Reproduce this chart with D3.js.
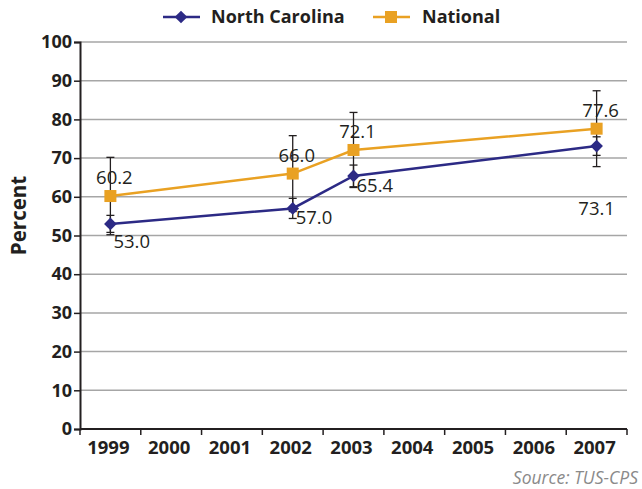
<!DOCTYPE html>
<html>
<head>
<meta charset="utf-8">
<script src="https://cdn.jsdelivr.net/npm/d3@7"></script>
<style>
  html, body { margin: 0; padding: 0; background: #fff; }
  svg { display: block; font-family: "Open Sans", "DejaVu Sans", sans-serif; }
</style>
</head>
<body>
<svg id="chart" width="642" height="489"></svg>
<script>
const years = ["1999", "2000", "2001", "2002", "2003", "2004", "2005", "2006", "2007"];
const dataYears = ["1999", "2002", "2003", "2007"];
const ncValues = [53.0, 57.0, 65.4, 73.1];
const ncErrors = [2.2, 2.6, 2.8, 2.4];
const natValues = [60.2, 66.0, 72.1, 77.6];
const natErrors = [10.0, 9.8, 9.7, 9.8];
const yTicks = [0, 10, 20, 30, 40, 50, 60, 70, 80, 90, 100];
const seriesNames = ["North Carolina", "National"];
const sourceText = "Source: TUS-CPS";

const NAVY = "#2c2a85";
const ORANGE = "#e9a123";
const INK = "#231f20";

const svg = d3.select("#chart");
const mLeft = 80, mRight = 627, mTop = 42, mBottom = 429;

const x = d3.scaleBand().domain(years).range([mLeft, mRight]).padding(0);
const y = d3.scaleLinear().domain([0, 100]).range([mBottom, mTop]);

// gridlines
svg.append("g").selectAll("line").data(yTicks.filter(d => d > 0)).join("line")
  .attr("x1", mLeft).attr("x2", mRight)
  .attr("y1", d => y(d)).attr("y2", d => y(d))
  .attr("stroke", "#a6a6a6").attr("stroke-width", 1.5);

// y axis
const yAxis = d3.axisLeft(y).tickValues(yTicks).tickSize(6).tickPadding(2);
const gy = svg.append("g").attr("transform", `translate(${mLeft},0)`).call(yAxis);
gy.select(".domain").attr("stroke", INK).attr("stroke-width", 2);
gy.selectAll(".tick line").attr("stroke", INK).attr("stroke-width", 1.5);
gy.selectAll(".tick text").attr("font-size", 18).attr("font-weight", "bold").attr("fill", INK)
  .attr("font-family", "'Open Sans', 'DejaVu Sans', sans-serif");

// x axis with ticks at band boundaries
svg.append("line").attr("x1", mLeft).attr("x2", mRight).attr("y1", mBottom).attr("y2", mBottom)
  .attr("stroke", INK).attr("stroke-width", 2);
const boundaries = years.map(d => x(d)).concat([x(years[years.length - 1]) + x.bandwidth()]);
svg.append("g").selectAll("line").data(boundaries).join("line")
  .attr("x1", d => d).attr("x2", d => d).attr("y1", mBottom).attr("y2", mBottom + 6)
  .attr("stroke", INK).attr("stroke-width", 1.5);
svg.append("g").selectAll("text").data(years).join("text")
  .attr("x", d => x(d) + x.bandwidth() / 2 - 2)
  .attr("y", mBottom + 25)
  .attr("text-anchor", "middle")
  .attr("font-size", 18.5).attr("font-weight", "bold").attr("fill", INK)
  .text(d => d);

// y title
svg.append("text")
  .attr("transform", `translate(26,${(mTop + mBottom) / 2 - 20}) rotate(-90)`)
  .attr("text-anchor", "middle")
  .attr("font-size", 20.5).attr("font-weight", "bold").attr("fill", INK)
  .text("Percent");

const cx = (i) => x(dataYears[i]) + x.bandwidth() / 2;

function errorBars(values, errors) {
  const g = svg.append("g");
  values.forEach((v, i) => {
    const X = cx(i);
    g.append("line").attr("x1", X).attr("x2", X)
      .attr("y1", y(v + errors[i])).attr("y2", y(v - errors[i]))
      .attr("stroke", INK).attr("stroke-width", 1.3);
    [v + errors[i], v - errors[i]].forEach(e => {
      g.append("line").attr("x1", X - 4).attr("x2", X + 4)
        .attr("y1", y(e)).attr("y2", y(e))
        .attr("stroke", INK).attr("stroke-width", 1.3);
    });
  });
}
errorBars(natValues, natErrors);
errorBars(ncValues, ncErrors);

const line = d3.line().x((d, i) => cx(i)).y(d => y(d));

svg.append("path").datum(natValues).attr("d", line)
  .attr("fill", "none").attr("stroke", ORANGE).attr("stroke-width", 2.5);
svg.append("path").datum(ncValues).attr("d", line)
  .attr("fill", "none").attr("stroke", NAVY).attr("stroke-width", 2.5);

// markers
svg.append("g").selectAll("rect").data(natValues).join("rect")
  .attr("x", (d, i) => cx(i) - 6).attr("y", d => y(d) - 6)
  .attr("width", 12).attr("height", 12).attr("fill", ORANGE);
svg.append("g").selectAll("path").data(ncValues).join("path")
  .attr("d", d3.symbol().type(d3.symbolSquare).size(80))
  .attr("transform", (d, i) => `translate(${cx(i)},${y(d)}) rotate(45)`)
  .attr("fill", NAVY);

// data labels
svg.append("g").selectAll("text").data(natValues).join("text")
  .attr("x", (d, i) => cx(i) + 4)
  .attr("y", d => y(d) - 12)
  .attr("text-anchor", "middle")
  .attr("font-size", 18.5).attr("fill", INK)
  .text(d => d.toFixed(1));
svg.append("g").selectAll("text").data(ncValues).join("text")
  .attr("x", (d, i) => i === ncValues.length - 1 ? cx(i) : cx(i) + 3)
  .attr("y", (d, i) => i === ncValues.length - 1 ? y(d) + 69 : (i === 0 ? y(d) + 24 : y(d) + 16))
  .attr("text-anchor", (d, i) => i === ncValues.length - 1 ? "middle" : "start")
  .attr("font-size", 18.5).attr("fill", INK)
  .text(d => d.toFixed(1));

// legend
const lg = svg.append("g");
lg.append("line").attr("x1", 163).attr("x2", 200).attr("y1", 17).attr("y2", 17)
  .attr("stroke", NAVY).attr("stroke-width", 2.5);
lg.append("path").attr("d", d3.symbol().type(d3.symbolSquare).size(80)())
  .attr("transform", "translate(181,17) rotate(45)").attr("fill", NAVY);
lg.append("text").attr("x", 211).attr("y", 23).attr("font-size", 18).attr("font-weight", "bold")
  .attr("fill", INK).text(seriesNames[0]);
lg.append("line").attr("x1", 373).attr("x2", 410).attr("y1", 17).attr("y2", 17)
  .attr("stroke", ORANGE).attr("stroke-width", 2.5);
lg.append("rect").attr("x", 385).attr("y", 11).attr("width", 12).attr("height", 12).attr("fill", ORANGE);
lg.append("text").attr("x", 422).attr("y", 23).attr("font-size", 18).attr("font-weight", "bold")
  .attr("fill", INK).text(seriesNames[1]);

// source
svg.append("text").attr("x", 638).attr("y", 484).attr("text-anchor", "end")
  .attr("font-size", 17.5).attr("font-style", "italic").attr("fill", "#8a8a8a")
  .text(sourceText);
</script>
</body>
</html>
